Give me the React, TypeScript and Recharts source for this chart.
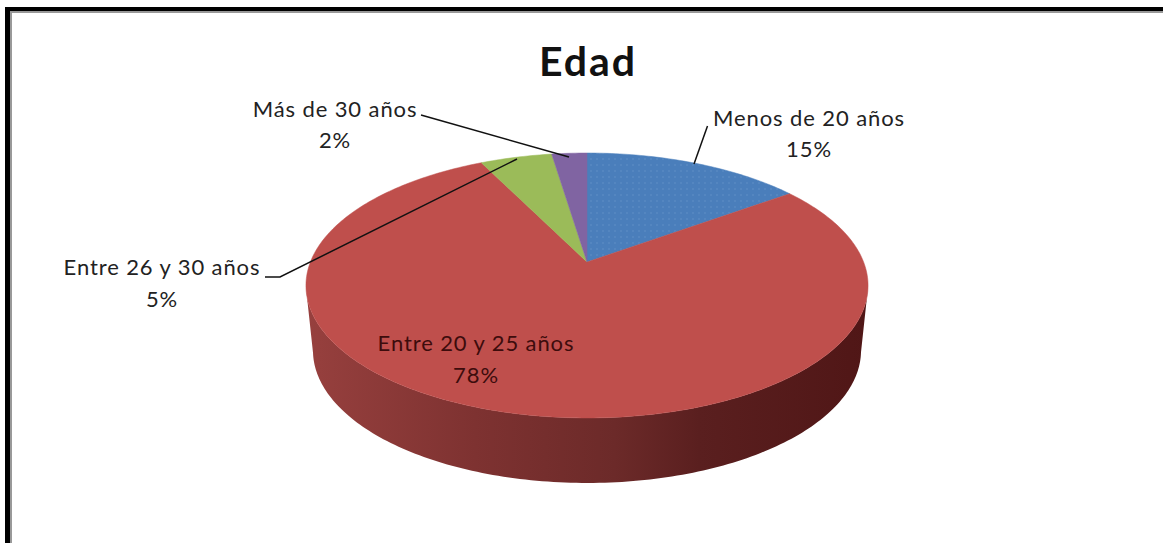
import { PieChart, Pie } from 'recharts'

const categories = ['Menos de 20 años', 'Entre 20 y 25 años', 'Entre 26 y 30 años', 'Más de 30 años']
const shares = [15, 77.7, 4.9, 2.4]
const colors = ['url(#dots)', '#bf4f4c', '#9bbb59', '#8064a2']

const data = categories.map((name, i) => ({ name, value: shares[i], fill: colors[i] }))

// the pie is a tilted disc: perspective makes the near half larger
const TILT = 0.4639
const PERSPECTIVE = 0.1773
const DEPTH = 65
const BASE_SHRINK = 0.975

const labelLayout: Record<string, any> = {
    'Menos de 20 años': { x: 809, y1: 126, y2: 157, color: '#222', line: '707.5,126 694,164' },
    'Entre 20 y 25 años': { x: 476, y1: 351, y2: 383, color: '#3d0c0c', line: '' },
    'Entre 26 y 30 años': { x: 162, y1: 275, y2: 307, color: '#222', line: '265,277 280,277 517,159' },
    'Más de 30 años': { x: 335, y1: 117, y2: 148, color: '#222', line: '421,115 569,157' },
}

function project(cx: number, cy: number, r: number, deg: number) {
    const a = (deg * Math.PI) / 180
    const u = Math.cos(a)
    const v = Math.sin(a)
    const w = 1 + PERSPECTIVE * v
    return { x: cx + (r * u) / w, y: cy - (r * TILT * v) / w, v }
}

function arcPoints(props: any) {
    const { cx, cy, outerRadius, startAngle, endAngle } = props
    const steps = Math.max(2, Math.ceil(Math.abs(endAngle - startAngle)))
    const pts = []
    for (let i = 0; i <= steps; i++) {
        pts.push(project(cx, cy, outerRadius, startAngle + ((endAngle - startAngle) * i) / steps))
    }
    return pts
}

function DiscSlice(props: any) {
    const { cx, cy, fill, payload } = props
    const pts = arcPoints(props)
    const top = `M${cx},${cy} ` + pts.map((p) => `L${p.x},${p.y}`).join(' ') + ' Z'
    const front = pts.filter((p) => p.v <= -PERSPECTIVE)
    let wall = ''
    if (front.length > 1) {
        const lower = [...front].reverse().map((p) => `L${cx + (p.x - cx) * BASE_SHRINK},${p.y + DEPTH}`)
        wall = `M${front[0].x},${front[0].y} ` + front.map((p) => `L${p.x},${p.y}`).join(' ') + ' ' + lower.join(' ') + ' Z'
    }
    const edge = payload?.name === categories[0] ? '#4a7ebb' : fill
    return (
        <g>
            {wall && <path d={wall} fill="url(#wallShade)" />}
            <path d={top} fill={fill} stroke={edge} strokeWidth={0.5} />
        </g>
    )
}

function SliceLabel(props: any) {
    const { name, value } = props
    const l = labelLayout[name]
    if (!l) return null
    const style = { fontFamily: 'Lato, sans-serif', fontSize: 22, letterSpacing: 0.9 }
    return (
        <g>
            {l.line && <polyline points={l.line} fill="none" stroke="#111" strokeWidth={1.5} />}
            <text x={l.x} y={l.y1} textAnchor="middle" fill={l.color} style={style}>{name}</text>
            <text x={l.x} y={l.y2} textAnchor="middle" fill={l.color} style={style}>{`${Math.round(value)}%`}</text>
        </g>
    )
}

export default function App() {
    return (
        <div style={{ position: 'absolute', left: 0, top: 0, width: 1163, height: 543, background: '#fff', overflow: 'hidden' }}>
            <div style={{ position: 'absolute', left: 5, top: 11, width: 1158, height: 2, background: '#999' }} />
            <div style={{ position: 'absolute', left: 10, top: 11, width: 2, height: 532, background: '#999' }} />
            <div style={{ position: 'absolute', left: 5, top: 7, width: 1158, height: 4, background: '#000' }} />
            <div style={{ position: 'absolute', left: 5, top: 7, width: 5, height: 536, background: '#000' }} />
            <PieChart width={1163} height={543} margin={{ top: 0, right: 0, bottom: 0, left: 0 }} style={{ position: 'absolute', left: 0, top: 0 }}>
                <defs>
                    <pattern id="dots" width="6" height="6" patternUnits="userSpaceOnUse">
                        <rect width="6" height="6" fill="#4a7ebb" />
                        <circle cx="3" cy="3" r="0.7" fill="#6593ca" />
                    </pattern>
                    <linearGradient id="wallShade" gradientUnits="userSpaceOnUse" x1="306" y1="0" x2="868" y2="0">
                        <stop offset="0" stopColor="#97403e" />
                        <stop offset="0.3" stopColor="#7e3231" />
                        <stop offset="0.55" stopColor="#6c2a29" />
                        <stop offset="0.7" stopColor="#5a1f1f" />
                        <stop offset="1" stopColor="#501616" />
                    </linearGradient>
                </defs>
                <text x={588} y={76} textAnchor="middle" fill="#111" style={{ fontFamily: 'Lato, sans-serif', fontSize: 41, fontWeight: 700, letterSpacing: 2 }}>
                    Edad
                </text>
                <Pie
                    data={data}
                    dataKey="value"
                    nameKey="name"
                    cx={587}
                    cy={262}
                    outerRadius={276.6}
                    startAngle={90}
                    endAngle={-270}
                    stroke="none"
                    shape={DiscSlice}
                    label={SliceLabel}
                    labelLine={false}
                    isAnimationActive={false}
                />
            </PieChart>
        </div>
    )
}
